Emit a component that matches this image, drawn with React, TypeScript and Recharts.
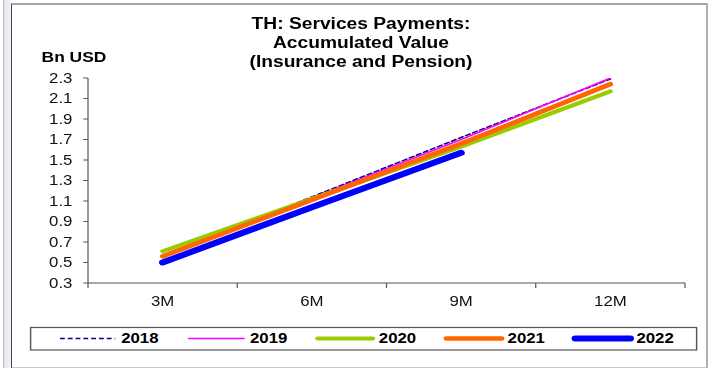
import React from "react";
import { LineChart, Line, XAxis, YAxis } from "recharts";

// values
const periods = ["3M", "6M", "9M", "12M"];
const v2018 = [0.57, 1.14, 1.72, 2.29];
const v2019 = [0.56, 1.13, 1.7, 2.3];
const v2020 = [0.61, 1.12, 1.63, 2.17];
const v2021 = [0.56, 1.11, 1.66, 2.24];
const v2022 = [0.5, 1.04, 1.57];
const yTicks = [0.3, 0.5, 0.7, 0.9, 1.1, 1.3, 1.5, 1.7, 1.9, 2.1, 2.3];

const titleLines = ["TH: Services Payments:", "Accumulated Value", "(Insurance and Pension)"];

const series = [
  { key: "y2018", name: "2018", color: "#000080", width: 1.5, dash: "4 2.5" },
  { key: "y2019", name: "2019", color: "#FF00FF", width: 1.5, dash: undefined },
  { key: "y2020", name: "2020", color: "#99CC00", width: 4, dash: undefined },
  { key: "y2021", name: "2021", color: "#FF6600", width: 4.5, dash: undefined },
  { key: "y2022", name: "2022", color: "#0000FF", width: 6, dash: undefined },
];

const data = periods.map((p, i) => ({
  period: p,
  y2018: v2018[i],
  y2019: v2019[i],
  y2020: v2020[i],
  y2021: v2021[i],
  y2022: v2022[i] ?? null,
}));

// the original picture is stretched sideways, so draw narrow and scale
const SX = 1.2;
const W = 594;
const H = 368;
const PLOT_LEFT = 88 / SX;
const PLOT_RIGHT = 685 / SX;
const PLOT_TOP = 78;
const PLOT_BOTTOM = 283;
const BAND_HALF = (PLOT_RIGHT - PLOT_LEFT) / (periods.length * 2);
const FONT = "Arial, 'Liberation Sans', sans-serif";
const AXIS = "#555";

const XTick = (props: any) => {
  const { x, index, payload } = props;
  const last = index === periods.length - 1;
  return (
    <g>
      <line x1={x - BAND_HALF} x2={x - BAND_HALF} y1={PLOT_BOTTOM} y2={PLOT_BOTTOM + 5} stroke={AXIS} />
      {last && (
        <line x1={x + BAND_HALF} x2={x + BAND_HALF} y1={PLOT_BOTTOM} y2={PLOT_BOTTOM + 5} stroke={AXIS} />
      )}
      <text x={x} y={PLOT_BOTTOM + 23} textAnchor="middle" fontSize={14} fontFamily={FONT} fill="#111">
        {payload.value}
      </text>
    </g>
  );
};

const Legend = () => (
  <svg
    width={556}
    height={24}
    style={{ position: "absolute", left: 30 / SX, top: 327, overflow: "visible" }}
  >
    <rect x={0.5} y={0.5} width={555} height={22.5} fill="#fff" stroke="#555" strokeWidth={1.2} />
    {series.map((s, i) => {
      const x0 = (60 - 30) / SX + i * (128.8 / SX);
      return (
        <g key={s.key}>
          <line
            x1={x0}
            x2={x0 + 46}
            y1={11.5}
            y2={11.5}
            stroke={s.color}
            strokeWidth={s.width}
            strokeDasharray={s.dash}
            strokeLinecap={s.dash ? "butt" : "round"}
          />
          <text x={x0 + 51} y={16.5} fontSize={14} fontWeight="bold" fontFamily={FONT} fill="#000">
            {s.name}
          </text>
        </g>
      );
    })}
  </svg>
);

export default function App() {
  return (
    <div style={{ position: "absolute", left: 0, top: 0, width: 712, height: 368, background: "#fff", overflow: "hidden" }}>
      <div style={{ position: "absolute", left: 3, top: 0, width: 1, height: 368, background: "#bdbdbd" }} />
      <div
        style={{
          position: "absolute",
          left: 4,
          top: 0,
          width: 7,
          height: 368,
          background: "linear-gradient(to right, #e4e4ec, #f3f3f8)",
        }}
      />
      <div
        style={{
          position: "absolute",
          left: 11,
          top: 3,
          width: 694,
          height: 362,
          borderTop: "2px solid #a6a6a6",
          borderRight: "2px solid #b0b0b0",
          borderBottom: "2px solid #c8c8c8",
          borderLeft: "1px solid #444",
        }}
      />
      <div
        style={{
          position: "absolute",
          left: 0,
          top: 0,
          width: W,
          height: H,
          transform: `scale(${SX}, 1)`,
          transformOrigin: "0 0",
          fontFamily: FONT,
        }}
      >
        <div
          style={{
            position: "absolute",
            left: 0,
            top: 14,
            width: (361 / SX) * 2,
            textAlign: "center",
            fontSize: 16,
            fontWeight: "bold",
            lineHeight: "19px",
            color: "#000",
          }}
        >
          {titleLines.map((t) => (
            <div key={t}>{t}</div>
          ))}
        </div>
        <div
          style={{
            position: "absolute",
            left: 74 / SX - 40,
            top: 48,
            width: 80,
            textAlign: "center",
            fontSize: 14.5,
            fontWeight: "bold",
            lineHeight: "18px",
            color: "#000",
          }}
        >
          Bn USD
        </div>
        <LineChart
          width={W}
          height={H}
          data={data}
          margin={{ top: PLOT_TOP, right: W - PLOT_RIGHT, bottom: H - PLOT_BOTTOM - 30, left: 0 }}
        >
          <XAxis
            dataKey="period"
            scale="band"
            height={30}
            tickLine={false}
            axisLine={{ stroke: AXIS }}
            tick={<XTick />}
            interval={0}
          />
          <YAxis
            type="number"
            domain={[0.3, 2.3]}
            ticks={yTicks}
            interval={0}
            width={PLOT_LEFT}
            tickSize={4}
            tickMargin={9}
            tickLine={{ stroke: AXIS }}
            axisLine={{ stroke: AXIS }}
            tickFormatter={(v: number) => v.toFixed(1)}
            tick={{ fontSize: 14, fill: "#111", fontFamily: FONT }}
            allowDataOverflow
          />
          {series.map((s) => (
            <Line
              key={s.key}
              type="linear"
              dataKey={s.key}
              stroke={s.color}
              strokeWidth={s.width}
              strokeDasharray={s.dash}
              strokeLinecap="round"
              dot={false}
              activeDot={false}
              isAnimationActive={false}
            />
          ))}
        </LineChart>
        <Legend />
      </div>
    </div>
  );
}
